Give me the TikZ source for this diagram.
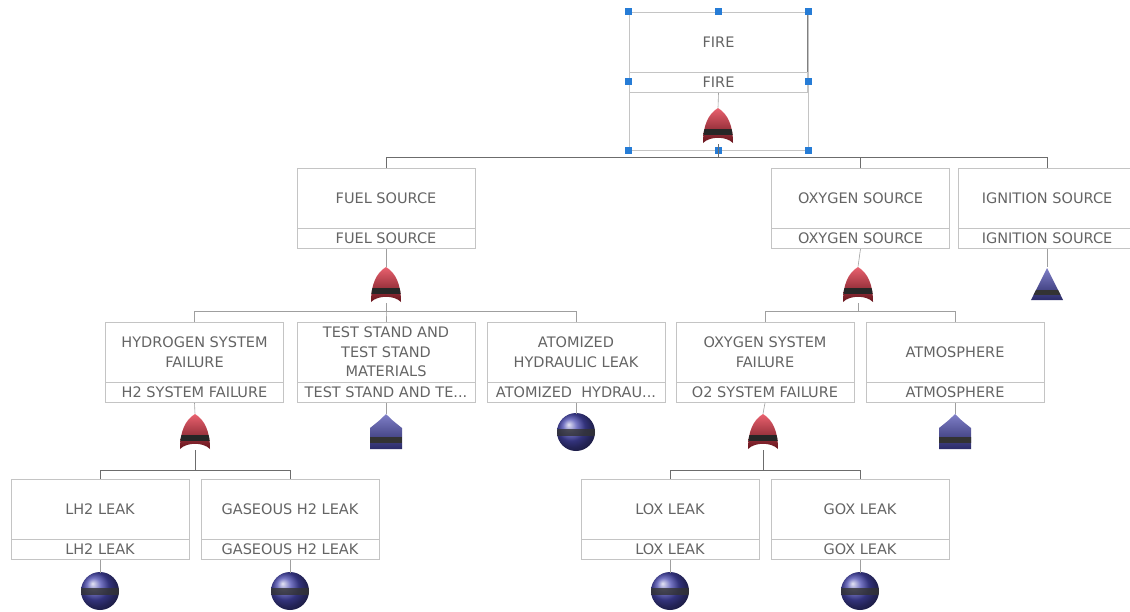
\documentclass[tikz,border=0pt]{standalone}
\usepackage{fontspec}
\setmainfont{DejaVu Sans}
\usetikzlibrary{fit}
\definecolor{txtgray}{RGB}{100,100,100}
\definecolor{boxgray}{RGB}{196,196,196}
\definecolor{handleblue}{RGB}{38,124,214}
\definecolor{gatered}{RGB}{226,44,62}
\definecolor{evblue}{RGB}{72,72,175}
\newcommand\orpath{(-15,17) .. controls (-15,0) and (-10,-12) .. (0,-18) .. controls (10,-12) and (15,0) .. (15,17) .. controls (8,10) and (-8,10) .. cycle}
\newcommand\housepath{(0,-18) .. controls (6,-12) .. (16,-4) -- (16,17) -- (-16,17) -- (-16,-4) .. controls (-6,-12) .. cycle}
\newcommand\tripath{(0,-17) -- (16,15) -- (-16,15) -- cycle}
\tikzset{
  orgate/.pic={
    \path[top color=gatered!75!white, bottom color=gatered!45!black] \orpath;
    \begin{scope}
      \clip \orpath;
      \fill[black!85] (-16,3) rectangle (16,9);
    \end{scope}
  },
  housegate/.pic={
    \path[top color=evblue!70!white, bottom color=evblue!60!black] \housepath;
    \begin{scope}
      \clip \housepath;
      \fill[black!80] (-17,5) rectangle (17,11);
    \end{scope}
  },
  trigate/.pic={
    \path[top color=evblue!70!white, bottom color=evblue!60!black] \tripath;
    \begin{scope}
      \clip \tripath;
      \fill[black!80] (-17,5) rectangle (17,10);
    \end{scope}
  },
  basicev/.pic={
    \shade[ball color=evblue] (0,0) circle (19);
    \begin{scope}
      \clip (0,0) circle (19);
      \fill[black!80, opacity=0.8] (-20,-3) rectangle (20,4);
    \end{scope}
  },
}
\begin{document}
\begin{tikzpicture}[x=1pt, y=-1pt, font=\fontsize{14.5}{19.5}\selectfont, line width=0.6pt,
  evtitle/.style={draw=boxgray, text=txtgray, minimum width=178pt, minimum height=60pt, align=center, inner sep=2pt},
  evlabel/.style={draw=boxgray, text=txtgray, minimum width=178pt, minimum height=20pt, inner sep=1pt, anchor=north},
  gate/.style={minimum width=30pt, minimum height=36pt, inner sep=0pt},
  link/.style={draw=gray!75},
  bus/.style={draw=gray!85!black, line width=0.8pt},
  handle/.style={fill=handleblue, minimum size=7pt, inner sep=0pt}]
  \useasboundingbox (0,0) rectangle (1130,611);
  % top event
  \node[evtitle, draw=gray] (fire) at (718.5,42) {FIRE};
  \node[evlabel] (fireLbl) at (fire.south) {FIRE};
  \node[gate] (gFire) at (718,126) {};
  \pic at (gFire) {orgate};
  \node[draw=boxgray, line width=0.5pt, minimum width=179pt, minimum height=138pt, inner sep=0pt] (sel) at (718.5,81) {};
  \foreach \a in {north west,north,north east,west,east,south west,south,south east}
    \node[handle] at (sel.\a) {};
  % second level
  \node[evtitle] (fuel) at (386,198) {FUEL SOURCE};
  \node[evlabel] (fuelLbl) at (fuel.south) {FUEL SOURCE};
  \node[evtitle] (oxy) at (860.5,198) {OXYGEN SOURCE};
  \node[evlabel] (oxyLbl) at (oxy.south) {OXYGEN SOURCE};
  \node[evtitle] (ign) at (1047,198) {IGNITION SOURCE};
  \node[evlabel] (ignLbl) at (ign.south) {IGNITION SOURCE};
  \node[gate] (gFuel) at (386,285) {};
  \pic at (gFuel) {orgate};
  \node[gate] (gOxy) at (858,285) {};
  \pic at (gOxy) {orgate};
  \node[gate] (gIgn) at (1047,285) {};
  \pic at (gIgn) {trigate};
  % third level
  \node[evtitle] (hsf) at (194.5,352) {HYDROGEN SYSTEM\\FAILURE};
  \node[evlabel] (hsfLbl) at (hsf.south) {H2 SYSTEM FAILURE};
  \node[evtitle] (tsm) at (386,352) {TEST STAND AND\\TEST STAND\\MATERIALS};
  \node[evlabel] (tsmLbl) at (tsm.south) {TEST STAND AND TE...};
  \node[evtitle] (ahl) at (576,352) {ATOMIZED\\HYDRAULIC LEAK};
  \node[evlabel] (ahlLbl) at (ahl.south) {ATOMIZED\ \ HYDRAU...};
  \node[evtitle] (osf) at (765,352) {OXYGEN SYSTEM\\FAILURE};
  \node[evlabel] (osfLbl) at (osf.south) {O2 SYSTEM FAILURE};
  \node[evtitle] (atm) at (955,352) {ATMOSPHERE};
  \node[evlabel] (atmLbl) at (atm.south) {ATMOSPHERE};
  \node[gate] (gHsf) at (195,432) {};
  \pic at (gHsf) {orgate};
  \node[gate] (gTsm) at (386,432) {};
  \pic at (gTsm) {housegate};
  \node[gate] (gAhl) at (576,432) {};
  \pic at (gAhl) {basicev};
  \node[gate] (gOsf) at (763,432) {};
  \pic at (gOsf) {orgate};
  \node[gate] (gAtm) at (955,432) {};
  \pic at (gAtm) {housegate};
  % fourth level
  \node[evtitle] (lh2) at (100,509) {LH2 LEAK};
  \node[evlabel] (lh2Lbl) at (lh2.south) {LH2 LEAK};
  \node[evtitle] (gh2) at (290,509) {GASEOUS H2 LEAK};
  \node[evlabel] (gh2Lbl) at (gh2.south) {GASEOUS H2 LEAK};
  \node[evtitle] (lox) at (670,509) {LOX LEAK};
  \node[evlabel] (loxLbl) at (lox.south) {LOX LEAK};
  \node[evtitle] (gox) at (860,509) {GOX LEAK};
  \node[evlabel] (goxLbl) at (gox.south) {GOX LEAK};
  \foreach \n/\x in {gLh2/100,gGh2/290,gLox/670,gGox/860} {
    \node[gate] (\n) at (\x,591) {};
    \pic at (\n) {basicev};
  }
  % connectors
  \coordinate (bus1) at (0,157);
  \coordinate (bus2) at (0,311);
  \coordinate (bus3) at (0,470);
  \foreach \e/\g in {fireLbl/gFire,fuelLbl/gFuel,oxyLbl/gOxy,ignLbl/gIgn,hsfLbl/gHsf,tsmLbl/gTsm,ahlLbl/gAhl,osfLbl/gOsf,atmLbl/gAtm,lh2Lbl/gLh2,gh2Lbl/gGh2,loxLbl/gLox,goxLbl/gGox}
    \draw[link] (\e.south) -- (\g.north);
  \foreach \c in {fuel,oxy,ign}
    \draw[bus] (gFire.south) |- (\c.north |- bus1) -- (\c.north);
  \foreach \c in {hsf,tsm,ahl}
    \draw[link] (gFuel.south) |- (\c.north |- bus2) -- (\c.north);
  \foreach \c in {osf,atm}
    \draw[link] (gOxy.south) |- (\c.north |- bus2) -- (\c.north);
  \foreach \c in {lh2,gh2}
    \draw[bus] (gHsf.south) |- (\c.north |- bus3) -- (\c.north);
  \foreach \c in {lox,gox}
    \draw[bus] (gOsf.south) |- (\c.north |- bus3) -- (\c.north);
\end{tikzpicture}
\end{document}
